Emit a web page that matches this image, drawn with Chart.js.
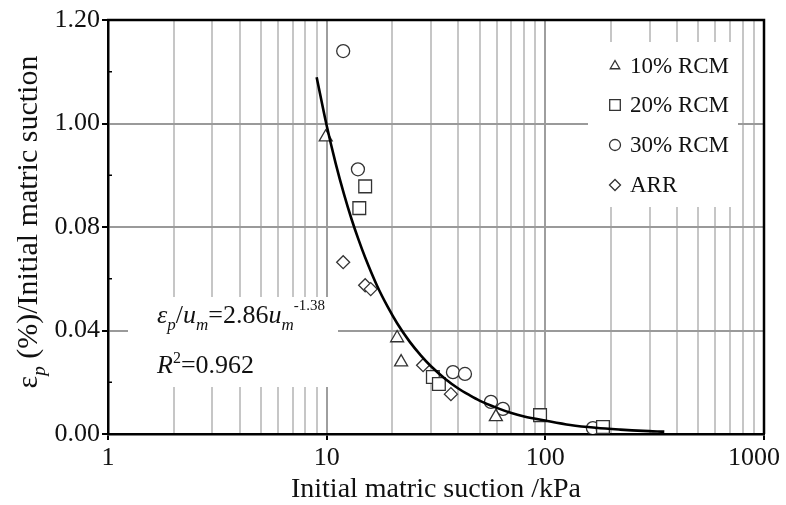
<!DOCTYPE html>
<html>
<head>
<meta charset="utf-8">
<script src="https://cdn.jsdelivr.net/npm/chart.js@4/dist/chart.umd.min.js"></script>
<style>
  html, body { margin: 0; padding: 0; background: #fff; }
</style>
</head>
<body>
<canvas id="chart" width="786" height="505"></canvas>
<script>
// data
const rcm10_x = [9.9, 21.0, 21.9, 59.4];
const rcm10_y = [0.1147, 0.0371, 0.0278, 0.0066];

const rcm20_x = [14.1, 15.0, 30.6, 32.6, 94.6, 183.5];
const rcm20_y = [0.0873, 0.0957, 0.0220, 0.0193, 0.0073, 0.0027];

const rcm30_x = [11.9, 13.9, 37.8, 42.9, 56.4, 64.0, 165, 183];
const rcm30_y = [0.148, 0.1023, 0.0239, 0.0232, 0.0124, 0.0097, 0.0023, 0.0019];

const arr_x = [11.9, 15.0, 15.9, 27.6, 37.0];
const arr_y = [0.0664, 0.0575, 0.0560, 0.0266, 0.0154];

// fitted curve, sampled along the drawn line
const fit_x = [9, 10, 11, 12, 13, 14, 15, 17, 19, 21, 24, 27, 30, 35, 40, 45, 50, 60, 70, 80, 100, 130, 170, 220, 280, 350];
const fit_y = [0.1379, 0.1192, 0.1045, 0.0927, 0.0830, 0.0750, 0.0682, 0.0573, 0.0492, 0.0428, 0.0356, 0.0303, 0.0262, 0.0212, 0.0176, 0.0150, 0.0129, 0.0101, 0.0081, 0.0068, 0.0052, 0.0035, 0.0024, 0.0017, 0.0012, 0.0009];

const xTickValues = [1, 2, 3, 4, 5, 6, 7, 8, 9, 10, 20, 30, 40, 50, 60, 70, 80, 90, 100, 200, 300, 400, 500, 600, 700, 800, 900, 1000];
const xTickLabels = ["1", "10", "100", "1000"];
const xMajor = [1, 10, 100, 1000];
const yTickLabels = ["0.00", "0.04", "0.08", "1.00", "1.20"];
const yMinor = [0.02, 0.06, 0.10, 0.14];

const seriesNames = ["10% RCM", "20% RCM", "30% RCM", "ARR"];

function pts(xs, ys) {
  return xs.map((v, i) => ({ x: v, y: ys[i] }));
}

const SERIF = "'Liberation Serif', 'Times New Roman', serif";

const markerBase = {
  showLine: false,
  borderColor: "#333",
  backgroundColor: "#fff",
  borderWidth: 1.3,
};

const datasets = [
  Object.assign({ label: seriesNames[0], data: pts(rcm10_x, rcm10_y), pointStyle: "triangle", pointRadius: 7.5 }, markerBase),
  Object.assign({ label: seriesNames[1], data: pts(rcm20_x, rcm20_y), pointStyle: "rect", pointRadius: 9 }, markerBase),
  Object.assign({ label: seriesNames[2], data: pts(rcm30_x, rcm30_y), pointStyle: "circle", pointRadius: 6.5 }, markerBase),
  Object.assign({ label: seriesNames[3], data: pts(arr_x, arr_y), pointStyle: "rectRot", pointRadius: 6.5 }, markerBase),
  {
    label: "fit",
    data: pts(fit_x, fit_y),
    showLine: true,
    pointRadius: 0,
    borderColor: "#000",
    borderWidth: 2.6,
    cubicInterpolationMode: "monotone",
    order: -1,
  },
];

// text with sub/superscripts, drawn piece by piece
function drawRich(ctx, parts, x, y) {
  let cx = x;
  parts.forEach((p) => {
    ctx.font = p.font;
    ctx.fillText(p.t, cx, y + (p.dy || 0));
    cx += ctx.measureText(p.t).width;
  });
}
function richWidth(ctx, parts) {
  let w = 0;
  parts.forEach((p) => {
    ctx.font = p.font;
    w += ctx.measureText(p.t).width;
  });
  return w;
}

const decor = {
  id: "decor",
  beforeDatasetsDraw(chart) {
    const { ctx, chartArea: a } = chart;
    ctx.save();
    ctx.fillStyle = "#fff";
    // legend box
    ctx.fillRect(a.right - 176, a.top + 22, 150, 165);
    // equation box
    ctx.fillRect(a.left + 20, 297, 210, 90);
    ctx.restore();
  },
  afterDraw(chart) {
    const { ctx, chartArea: a, scales } = chart;
    ctx.save();
    // top and right frame
    ctx.strokeStyle = "#000";
    ctx.lineWidth = 2.5;
    ctx.beginPath();
    ctx.moveTo(a.left - 1, a.top);
    ctx.lineTo(a.right, a.top);
    ctx.lineTo(a.right, a.bottom);
    ctx.stroke();

    // inner minor ticks on y
    ctx.lineWidth = 1.5;
    yMinor.forEach((v) => {
      const py = scales.y.getPixelForValue(v);
      ctx.beginPath();
      ctx.moveTo(a.left, py);
      ctx.lineTo(a.left + 4, py);
      ctx.stroke();
    });

    // x tick labels (last one kept inside the canvas like the original)
    ctx.fillStyle = "#111";
    ctx.textBaseline = "top";
    ctx.textAlign = "center";
    ctx.font = "26px " + SERIF;
    xMajor.forEach((v, k) => {
      const tw = ctx.measureText(xTickLabels[k]).width;
      const px = Math.min(scales.x.getPixelForValue(v), chart.width - 6 - tw / 2);
      ctx.fillText(xTickLabels[k], px, a.bottom + 11);
    });

    // legend
    const lx = a.right - 149;
    const rows = [66, 105, 145, 185];
    ctx.textAlign = "left";
    ctx.textBaseline = "middle";
    ctx.font = "23px " + SERIF;
    for (let i = 0; i < 4; i++) {
      const ds = chart.data.datasets[i];
      ctx.save();
      ctx.strokeStyle = "#333";
      ctx.fillStyle = "#fff";
      ctx.lineWidth = 1.3;
      Chart.helpers.drawPoint(ctx, {
        pointStyle: ds.pointStyle,
        radius: ds.pointStyle === "rect" ? 7.5 : 5.5,
        rotation: 0,
        borderWidth: 1.3,
      }, lx, rows[i]);
      ctx.restore();
      ctx.fillText(ds.label, lx + 15, rows[i] + 1);
    }

    // equation
    ctx.textBaseline = "alphabetic";
    ctx.fillStyle = "#111";
    const it = "italic 26px " + SERIF;
    const rg = "26px " + SERIF;
    const sm = "italic 17px " + SERIF;
    drawRich(ctx, [
      { t: "ε", font: it },
      { t: "p", font: sm, dy: 7 },
      { t: "/", font: rg },
      { t: "u", font: it },
      { t: "m", font: sm, dy: 7 },
      { t: "=2.86", font: rg },
      { t: "u", font: it },
      { t: "m", font: sm, dy: 7 },
      { t: "-1.38", font: "15px " + SERIF, dy: -13 },
    ], a.left + 49, 323);
    drawRich(ctx, [
      { t: "R", font: it },
      { t: "2", font: "16px " + SERIF, dy: -10 },
      { t: "=0.962", font: rg },
    ], a.left + 49, 373);

    // x title
    ctx.textAlign = "center";
    ctx.font = "28px " + SERIF;
    ctx.fillText("Initial matric suction /kPa", (a.left + a.right) / 2, 497);

    // y title (rotated, with subscript)
    ctx.textAlign = "left";
    const yt = [
      { t: "ε", font: "30px " + SERIF },
      { t: "p", font: "italic 19px " + SERIF, dy: 8 },
      { t: " (%)/Initial matric suction", font: "30px " + SERIF },
    ];
    const w = richWidth(ctx, yt);
    ctx.translate(37, 222);
    ctx.rotate(-Math.PI / 2);
    drawRich(ctx, yt, -w / 2, 0);
    ctx.restore();
  },
};

new Chart(document.getElementById("chart"), {
  type: "scatter",
  data: { datasets: datasets },
  plugins: [decor],
  options: {
    responsive: false,
    animation: false,
    devicePixelRatio: 1,
    layout: { padding: { top: 20, right: 22, left: 0, bottom: 0 } },
    plugins: {
      legend: { display: false },
      tooltip: { enabled: false },
    },
    scales: {
      x: {
        type: "logarithmic",
        min: 1,
        max: 1000,
        afterBuildTicks: (scale) => {
          scale.ticks = xTickValues.map((v) => ({ value: v, major: xMajor.includes(v) }));
        },
        afterFit: (scale) => {
          scale.height = 71;
          scale.paddingLeft = 0;
          scale.paddingRight = 0;
        },
        border: { color: "#000", width: 2.5 },
        grid: {
          lineWidth: 2,
          tickLength: 6,
          tickWidth: 2,
          color: (c) => {
            const v = c.tick ? c.tick.value : 0;
            if (v === 1 || v === 1000) return "rgba(0,0,0,0)";
            return xMajor.includes(v) ? "#9e9e9e" : "#c6c6c6";
          },
          tickColor: (c) => (c.tick && xMajor.includes(c.tick.value) ? "#000" : "rgba(0,0,0,0)"),
        },
        ticks: {
          autoSkip: false,
          maxRotation: 0,
          padding: 3,
          font: { family: SERIF, size: 26 },
          callback: () => "",
        },
      },
      y: {
        min: 0,
        max: 0.16,
        afterFit: (scale) => {
          scale.width = 108;
        },
        border: { color: "#000", width: 2.5 },
        grid: {
          lineWidth: 2,
          tickLength: 6,
          tickWidth: 2,
          tickColor: "#000",
          color: (c) => (c.index === 0 || c.index === 4 ? "rgba(0,0,0,0)" : "#9a9a9a"),
        },
        ticks: {
          stepSize: 0.04,
          padding: 2,
          color: "#111",
          font: { family: SERIF, size: 26 },
          callback: (v, i) => yTickLabels[i],
        },
      },
    },
  },
});
</script>
</body>
</html>
